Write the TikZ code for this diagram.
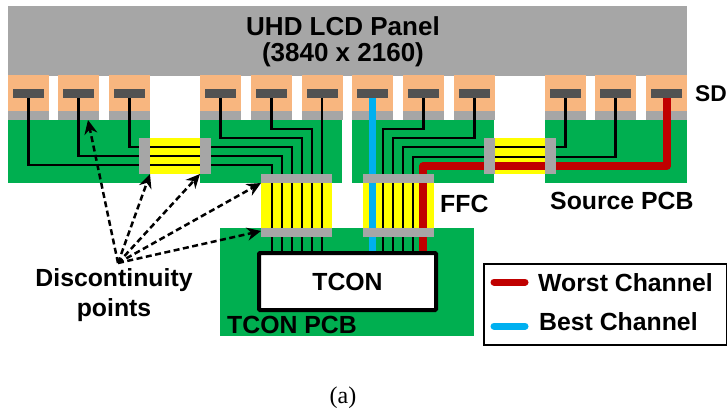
\documentclass[tikz,border=0pt]{standalone}
\usepackage{fontspec}
\setmainfont{Liberation Sans}
\newfontfamily\serifcap{Liberation Serif}
\usetikzlibrary{arrows.meta}
\definecolor{panelgray}{HTML}{A6A6A6}
\definecolor{sdorange}{HTML}{F8B67F}
\definecolor{pcbgreen}{HTML}{00AF50}
\definecolor{icdark}{HTML}{525252}
\definecolor{ffcyellow}{HTML}{FFFF00}
\definecolor{worstred}{HTML}{C00000}
\definecolor{bestblue}{HTML}{00B0F0}
\tikzset{
  x=1pt,y=-1pt,
  wire/.style={draw=black,line width=2.2pt},
  redwire/.style={draw=worstred,line width=7.5pt,line join=round,line cap=round},
  bluewire/.style={draw=bestblue,line width=7.5pt},
  label/.style={font=\bfseries\fontsize{24.8}{30}\selectfont,inner sep=0pt,align=center},
  hint/.style={draw=black,line width=2.5pt,dash pattern=on 6pt off 3.5pt,-{Stealth[length=14pt,width=13pt]}},
  legendline/.style={line width=7pt,line cap=round},
}
\begin{document}
\begin{tikzpicture}
\useasboundingbox (0,0) rectangle (727,416);
% panel
\fill[panelgray] (8,6) rectangle (687,76);
% SD boards
\foreach \a in {8,58,109,200,251,302,352,403,454,545,595,646}{
  \fill[sdorange] (\a,75) rectangle (\a+41,111);
  \fill[panelgray] (\a,111) rectangle (\a+41,120);
}
% PCBs
\fill[pcbgreen] (8,120) rectangle (150,183);
\fill[pcbgreen] (200,120) rectangle (342,183);
\fill[pcbgreen] (352,120) rectangle (494,183);
\fill[pcbgreen] (545,120) rectangle (687,183);
\fill[pcbgreen] (220,228) rectangle (474,336);
% FFC
\fill[ffcyellow] (150,138) rectangle (200,174);
\fill[ffcyellow] (495,138) rectangle (545,174);
\fill[ffcyellow] (261,183) rectangle (332,228);
\fill[ffcyellow] (363,183) rectangle (434,228);
% wires
\coordinate (s1) at (28.5,98);
\coordinate (s2) at (78.5,98);
\coordinate (s3) at (129.5,98);
\coordinate (s4) at (220.5,98);
\coordinate (s5) at (271.5,98);
\coordinate (s6) at (322,98);
\coordinate (s7) at (372.5,98);
\coordinate (s8) at (423.5,98);
\coordinate (s9) at (474.5,98);
\coordinate (s10) at (565.5,98);
\coordinate (s11) at (615.5,98);
\coordinate (s12) at (667,98);
\draw[wire] (s1) |- (272,165) -- (272,255);
\draw[wire] (s2) |- (282,156) -- (282,255);
\draw[wire] (s3) |- (292,147) -- (292,255);
\draw[wire] (s4) |- (302,138) -- (302,255);
\draw[wire] (s5) |- (312,129) -- (312,255);
\draw[wire] (s6) -- (322,255);
\draw[bluewire] (s7) -- (372.5,254);
\draw[wire] (s8) |- (383,129) -- (383,255);
\draw[wire] (s9) |- (393,138) -- (393,255);
\draw[wire] (s10) |- (403,147) -- (403,255);
\draw[wire] (s11) |- (413,157) -- (413,255);
\draw[redwire] (s12) |- (423,166) -- (423,252);
% connector caps
\fill[panelgray] (139,138) rectangle (150,174);
\fill[panelgray] (200,138) rectangle (211,174);
\fill[panelgray] (484,138) rectangle (495,174);
\fill[panelgray] (545,138) rectangle (556,174);
\fill[panelgray] (261,174) rectangle (332,183);
\fill[panelgray] (261,228) rectangle (332,237);
\fill[panelgray] (363,174) rectangle (434,183);
\fill[panelgray] (363,228) rectangle (434,237);
% driver ICs
\foreach \a in {13,63,114,205,256,307,357,408,459,550,600,651}{
  \fill[icdark] (\a,89) rectangle (\a+31,98);
}
% TCON
\node[draw=black,fill=white,line width=4pt,rounded corners=1pt,minimum width=177pt,minimum height=57pt,inner sep=0pt,font=\bfseries\fontsize{24.8}{30}\selectfont] (tcon) at (347.5,281.5) {TCON};
% labels
\node[label,font=\bfseries\fontsize{26}{26.5}\selectfont] (title) at (343,42) {UHD LCD Panel\\(3840 x 2160)};
\node[label,anchor=west,font=\bfseries\fontsize{22.8}{28}\selectfont] (sd) at (695,94) {SD};
\node[label,anchor=west] (ffc) at (440,204) {FFC};
\node[label,anchor=west] (src) at (550,201) {Source PCB};
\node[label,anchor=west] (tpcb) at (227,325) {TCON PCB};
\node[label] (disc) at (114,295) {Discontinuity\\points};
\coordinate (hub) at (118,263);
\coordinate (t1) at (88,120);
\coordinate (t2) at (150,174);
\coordinate (t3) at (200,174);
\coordinate (t4) at (261,183);
\coordinate (t5) at (261,231);
\foreach \t in {t1,t2,t3,t4,t5}{ \draw[hint] (hub) -- (\t); }
% legend
\node[draw=black,line width=2pt,fill=white,minimum width=243pt,minimum height=81pt,inner sep=0pt] (legend) at (605.5,304.5) {};
\coordinate (w1) at (494,282);
\coordinate (w2) at (525,282);
\coordinate (b1) at (494,326);
\coordinate (b2) at (525,326);
\draw[legendline,worstred] (w1) -- (w2);
\draw[legendline,bestblue] (b1) -- (b2);
\node[label,anchor=west] (lw) at (538,283) {Worst Channel};
\node[label,anchor=west] (lb) at (539,322) {Best Channel};
\node[font=\serifcap\fontsize{24}{26}\selectfont,inner sep=0pt] (cap) at (343,398) {(a)};
\end{tikzpicture}
\end{document}
